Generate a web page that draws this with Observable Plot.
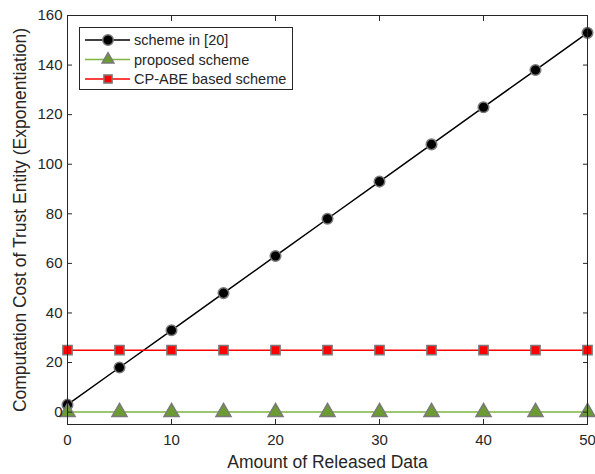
<!DOCTYPE html>
<html>
<head>
<meta charset="utf-8">
<script src="https://cdn.jsdelivr.net/npm/d3@7"></script>
<script src="https://cdn.jsdelivr.net/npm/@observablehq/plot@0.6"></script>
<style>
  body { margin: 0; background: #fff; }
  #wrap { position: relative; width: 595px; height: 474px; font-family: "Liberation Sans", Arial, sans-serif; }
  #legend { position: absolute; left: 79px; top: 27px; }
</style>
</head>
<body>
<div id="wrap"><div id="chart"></div><div id="legend"></div></div>
<script>
const releasedData = [0, 5, 10, 15, 20, 25, 30, 35, 40, 45, 50];
const scheme20 = [3, 18, 33, 48, 63, 78, 93, 108, 123, 138, 153];
const proposed = [0, 0, 0, 0, 0, 0, 0, 0, 0, 0, 0];
const cpabe = [25, 25, 25, 25, 25, 25, 25, 25, 25, 25, 25];
const seriesNames = ["scheme in [20]", "proposed scheme", "CP-ABE based scheme"];
const xTicks = [0, 10, 20, 30, 40, 50];
const yTicks = [0, 20, 40, 60, 80, 100, 120, 140, 160];
const xLabel = "Amount of Released Data";
const yLabel = "Computation Cost of Trust Entity (Exponentiation)";

const styles = [
  {line: "#000000", fill: "#000000", symbol: "circle", r: 5.3},
  {line: "#7fb442", fill: "#6b9b32", symbol: "triangle", r: 5.6},
  {line: "#ff0000", fill: "#ff0000", symbol: "square", r: 5.2}
];
const edge = "#7a7a7a";
const ink = "#262626";
const font = "'Liberation Sans', Arial, sans-serif";

const toRows = (vals) => releasedData.map((x, i) => ({x, y: vals[i]}));
const seriesRows = [scheme20, proposed, cpabe].map(toRows);

const marks = [];
seriesRows.forEach((rows, k) => {
  const s = styles[k];
  marks.push(Plot.line(rows, {x: "x", y: "y", stroke: s.line, strokeWidth: 1.5}));
  marks.push(Plot.dot(rows, {x: "x", y: "y", symbol: s.symbol, r: s.r, fill: s.fill, stroke: edge, strokeWidth: 1.5}));
});

const chart = Plot.plot({
  width: 595,
  height: 474,
  marginLeft: 67,
  marginRight: 8,
  marginTop: 15,
  marginBottom: 50,
  style: {fontFamily: font, fontSize: "15px", color: ink, background: "#fff"},
  x: {domain: [0, 50]},
  y: {domain: [-5, 160]},
  marks: [
    ...marks,
    Plot.frame({stroke: ink, strokeWidth: 1}),
    Plot.axisX(xTicks, {anchor: "bottom", tickSize: -5, tickPadding: 15, fontSize: 15, stroke: ink, fill: ink, label: null}),
    Plot.axisX(xTicks, {anchor: "top", tickSize: -5, tickFormat: () => "", label: null, stroke: ink}),
    Plot.axisY(yTicks, {anchor: "left", tickSize: -5, tickPadding: 10, fontSize: 15, stroke: ink, fill: ink, label: null}),
    Plot.axisY(yTicks, {anchor: "right", tickSize: -5, tickFormat: () => "", label: null, stroke: ink}),
    Plot.text([xLabel], {text: d => d, frameAnchor: "bottom", dy: 38, fontSize: 17.5, fill: ink, lineAnchor: "middle", textAnchor: "middle"}),
    Plot.text([yLabel], {text: d => d, frameAnchor: "left", dx: -47, rotate: -90, fontSize: 17.5, fill: ink, lineAnchor: "middle", textAnchor: "middle"})
  ]
});
document.getElementById("chart").appendChild(chart);

// Legend
const lw = 214, lh = 63;
const svg = d3.select("#legend").append("svg").attr("width", lw).attr("height", lh);
svg.append("rect").attr("x", 0.5).attr("y", 0.5).attr("width", lw - 1).attr("height", lh - 1)
  .attr("fill", "#fff").attr("stroke", ink);
const symMap = {circle: d3.symbolCircle, triangle: d3.symbolTriangle2, square: d3.symbolSquare2};
seriesNames.forEach((name, k) => {
  const s = styles[k];
  const cy = 13 + k * 19.5;
  const g = svg.append("g");
  g.append("line").attr("x1", 6).attr("x2", 51).attr("y1", cy).attr("y2", cy).attr("stroke", s.line).attr("stroke-width", 1.5);
  g.append("path").attr("transform", `translate(29,${cy})`)
    .attr("d", d3.symbol(symMap[s.symbol], Math.PI * s.r * s.r)())
    .attr("fill", s.fill).attr("stroke", edge).attr("stroke-width", 1.5);
  g.append("text").attr("x", 55).attr("y", cy).attr("dy", "0.35em")
    .attr("font-size", 14.5).attr("fill", ink)
    .attr("font-family", font).text(name);
});
</script>
</body>
</html>
